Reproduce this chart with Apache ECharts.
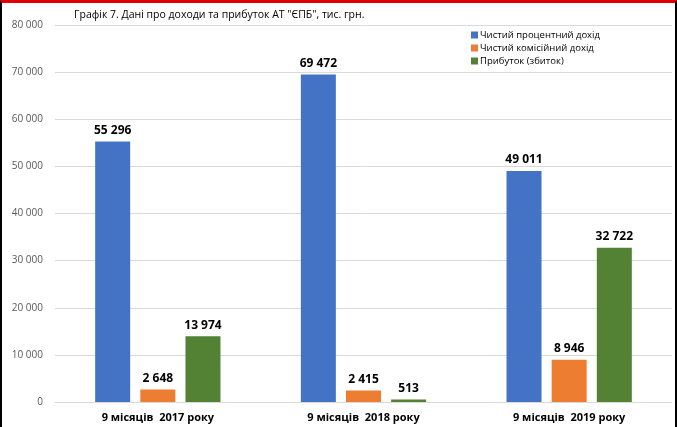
<!DOCTYPE html>
<html><head><meta charset="utf-8">
<script src="https://cdn.jsdelivr.net/npm/echarts@6/dist/echarts.min.js"></script>
<style>
html,body{margin:0;padding:0;background:#fff;}
#wrap{position:absolute;left:0;top:0;width:677px;height:427px;box-sizing:border-box;border-left:2px solid #000;border-right:2px solid #000;border-top:3px solid #e00000;}
#c{position:absolute;left:0;top:0;width:677px;height:427px;}
</style></head>
<body>
<div id="c"></div>
<div id="wrap"></div>
<script>
const categories = ['9 місяців  2017 року', '9 місяців  2018 року', '9 місяців  2019 року'];
const seriesNames = ['Чистий процентний дохід', 'Чистий комісійний дохід', 'Прибуток (збиток)'];
const interestIncome = [55296, 69472, 49011];
const commissionIncome = [2648, 2415, 8946];
const profit = [13974, 513, 32722];
const colors = ['#4472C4', '#ED7D31', '#548235'];
const fmt = v => String(v).replace(/\B(?=(\d{3})+(?!\d))/g, ' ');
const font = '"Open Sans", "Noto Sans", sans-serif';
const chart = echarts.init(document.getElementById('c'));
const mk = (name, data, color) => ({
  name, type: 'bar', data, barWidth: 35, barGap: '29%',
  itemStyle: { color },
  label: { show: true, position: 'top', distance: 5, formatter: p => fmt(p.value),
    fontFamily: font, fontWeight: 'bold', fontSize: 12, color: '#000' }
});
chart.setOption({
  animation: false,
  textStyle: { fontFamily: font },
  title: { text: 'Графік 7. Дані про доходи та прибуток АТ "ЄПБ", тис. грн.', left: 69, top: 5,
    textStyle: { fontFamily: font, fontSize: 10.5, fontWeight: 'normal', color: '#000' } },
  legend: { orient: 'vertical', left: 466, top: 25, itemWidth: 7, itemHeight: 7, itemGap: 3,
    icon: 'rect', textStyle: { fontFamily: font, fontSize: 9.5, color: '#000', padding: [0, 0, 0, -3] },
    data: seriesNames },
  grid: { left: 55, right: 5, top: 25, bottom: 25, containLabel: false },
  xAxis: { type: 'category', data: categories,
    axisLine: { lineStyle: { color: '#d9d9d9' } }, axisTick: { show: false },
    axisLabel: { fontFamily: font, fontSize: 11, fontWeight: 'bold', color: '#000', margin: 10 } },
  yAxis: { type: 'value', min: 0, max: 80000, interval: 10000,
    axisLine: { show: false }, axisTick: { show: false },
    splitLine: { lineStyle: { color: '#d9d9d9' } },
    axisLabel: { fontFamily: font, fontSize: 10, color: '#595959', margin: 12, formatter: v => fmt(v) } },
  series: [mk(seriesNames[0], interestIncome, colors[0]), mk(seriesNames[1], commissionIncome, colors[1]), mk(seriesNames[2], profit, colors[2])]
});
</script>
</body></html>
